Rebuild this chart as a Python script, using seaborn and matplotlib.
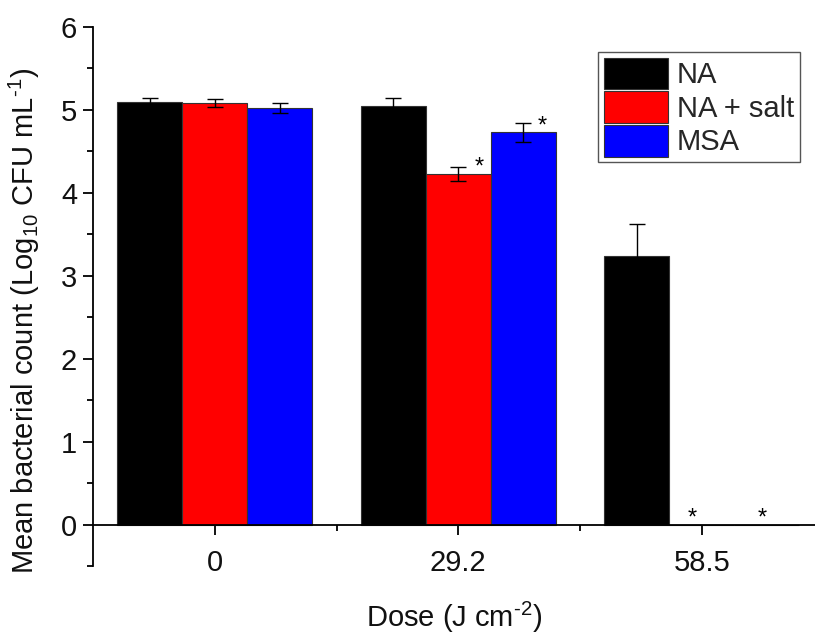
import numpy as np
import pandas as pd
import matplotlib
matplotlib.use("Agg")
import matplotlib.pyplot as plt
from matplotlib.ticker import MultipleLocator, FixedLocator
import seaborn as sns

# Doses, media and mean counts (log10 CFU/mL) with their standard errors
doses = ["0", "29.2", "58.5"]
media = ["NA", "NA + salt", "MSA"]
na_mean = [5.10, 5.05, 3.24]
na_salt_mean = [5.08, 4.23, 0.0]
msa_mean = [5.02, 4.73, 0.0]
na_err = [0.04, 0.09, 0.39]
na_salt_err = [0.05, 0.085, 0.0]
msa_err = [0.06, 0.11, 0.0]

# Significance markers: (dose index, medium index)
significant = [(1, 1), (1, 2), (2, 1), (2, 2)]

colors = ["#000000", "#ff0000", "#0000ff"]

sns.set_theme(style="ticks")
plt.rcParams["font.family"] = ["Liberation Sans", "DejaVu Sans"]
plt.rcParams["mathtext.fontset"] = "custom"
plt.rcParams["mathtext.rm"] = "Liberation Sans"
plt.rcParams["mathtext.it"] = "Liberation Sans"

means = [na_mean, na_salt_mean, msa_mean]
errs = [na_err, na_salt_err, msa_err]
df = pd.DataFrame({
    "dose": np.repeat([doses], len(media), axis=0).ravel(),
    "medium": np.repeat(media, len(doses)),
    "count": np.concatenate(means),
    "err": np.concatenate(errs),
})

FS = 21

fig = plt.figure(figsize=(8.15, 6.35), dpi=100)
ax = fig.add_axes([0.1141, 0.1079, 0.8859, 0.8496])

sns.barplot(data=df, x="dose", y="count", hue="medium", order=doses,
            hue_order=media, palette=colors, width=0.8, errorbar=None,
            edgecolor="#333333", linewidth=0.8, saturation=1, ax=ax)

# Error bars and significance stars on top of each bar
bar_groups = list(ax.containers)
star_dx = {(1, 1): 0.087, (1, 2): 0.078, (2, 1): -0.04, (2, 2): -0.02}
for m, container in enumerate(bar_groups):
    for d, bar in enumerate(container):
        xc = bar.get_x() + bar.get_width() / 2
        h = bar.get_height()
        e = errs[m][d]
        if e > 0:
            ax.errorbar(xc, h, yerr=e, fmt="none", ecolor="black",
                        elinewidth=1.0, capsize=6, capthick=1.0, zorder=5)
        if (d, m) in significant:
            ax.text(xc + star_dx[(d, m)], h, "*", ha="center", va="baseline",
                    fontsize=17, color="black", zorder=6)

ax.set_xlim(-0.5, 2.465)
ax.set_ylim(-0.5, 6)

for side in ["top", "right"]:
    ax.spines[side].set_visible(False)
ax.spines["bottom"].set_position(("data", 0))
ax.spines["left"].set_linewidth(1.3)
ax.spines["bottom"].set_linewidth(1.3)
ax.spines["left"].set_color("black")
ax.spines["bottom"].set_color("black")

ax.yaxis.set_major_locator(MultipleLocator(1))
ax.yaxis.set_minor_locator(FixedLocator([-0.5, 0.5, 1.5, 2.5, 3.5, 4.5, 5.5]))
ax.xaxis.set_minor_locator(FixedLocator([0.5, 1.5]))
ax.set_yticks(range(0, 7))
ax.tick_params(axis="both", which="major", direction="out", length=7.5,
               width=1.3, labelsize=FS, color="black", labelcolor="#111111")
ax.tick_params(axis="both", which="minor", direction="out", length=4,
               width=1.3, color="black")
ax.tick_params(axis="x", which="major", pad=10)
ax.tick_params(axis="y", which="major", pad=4)

xl = ax.set_xlabel("Dose (J cm$^{\u2010 2}$)", fontsize=FS, color="#111111")
xl.set_va("baseline")
ax.xaxis.set_label_coords(0.5, -0.112)
ax.set_ylabel("Mean bacterial count (Log$_{10}$ CFU mL$^{\u20101}$)", fontsize=FS,
              color="#111111")
ax.yaxis.set_label_coords(-0.07, 0.455)

handles, labels = ax.get_legend_handles_labels()
leg = ax.legend(handles, labels, loc="upper right", bbox_to_anchor=(0.979, 0.954),
                borderaxespad=0, fontsize=FS, handlelength=2.2, handleheight=1.3,
                labelspacing=0.06, handletextpad=0.3, borderpad=0.2,
                fancybox=False, framealpha=1, edgecolor="#555555")
leg.get_frame().set_linewidth(1.0)

fig.savefig("out.png", dpi=100)
